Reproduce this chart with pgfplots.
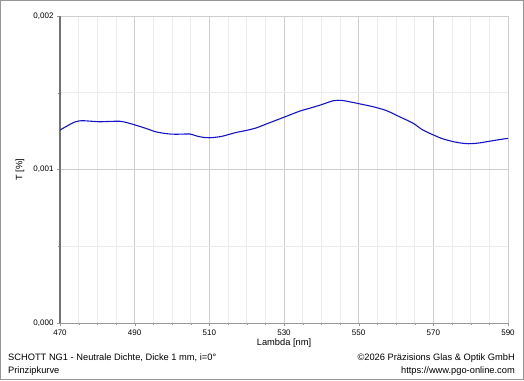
\documentclass[border=0pt]{standalone}
\usepackage{pgfplots}
\pgfplotsset{compat=1.18}
\usepackage{fontspec}
\setmainfont{Liberation Sans}
\definecolor{curve}{RGB}{20,20,205}
\definecolor{majgrid}{RGB}{205,205,205}
\definecolor{mingrid}{RGB}{236,236,236}
\definecolor{frame}{RGB}{150,150,150}
\begin{document}
\begin{tikzpicture}[x=1pt,y=1pt]
\fill[white] (0,0) rectangle (524,380);
\draw[frame, line width=1.2pt] (0.6,0.6) rectangle (523.4,379.4);
\begin{axis}[
  at={(60pt,57pt)}, anchor=south west,
  scale only axis, width=448pt, height=307pt,
  xmin=470, xmax=590, ymin=0, ymax=0.002,
  xtick={470,490,...,590}, minor x tick num=3,
  ytick={0,0.001,0.002}, minor y tick num=1,
  grid=both,
  major grid style={majgrid, line width=0.8pt},
  minor grid style={mingrid, line width=0.6pt},
  axis lines*=left,
  axis line style={-},
  x axis line style={draw=gray!80, line width=0.8pt},
  y axis line style={draw=gray!90!black, line width=1.4pt},
  tick align=outside,
  major tick length=3pt, minor tick length=2pt,
  tick style={gray!80},
  scaled y ticks=false,
  yticklabel style={/pgf/number format/.cd, fixed, fixed zerofill, precision=3, use comma},
  /pgf/number format/assume math mode=true,
  ticklabel style={font=\fontsize{8}{9}\selectfont},
  xlabel={Lambda [nm]}, ylabel={T [\%]},
  label style={font=\fontsize{9.3}{11}\selectfont},
  xlabel style={at={(axis description cs:0.5,0)}, anchor=center, yshift=-20pt},
  ylabel style={at={(axis description cs:0,0.5)}, anchor=center, rotate=0, yshift=40pt},
  clip=true,
]
\addplot[curve, line width=1.1pt, smooth] coordinates {
(470,0.001257) (472,0.001285) (474,0.001310) (475.8,0.001318) (478,0.001315)
(480.7,0.001311) (483,0.001313) (486.1,0.001314) (488,0.001305) (490.1,0.001290)
(493,0.001268) (495.9,0.001244) (499.5,0.001231) (502,0.001230) (504.8,0.001231)
(506.6,0.001218) (508.5,0.001209) (510.2,0.001207) (512,0.001211) (513.7,0.001218)
(517.3,0.001242) (520,0.001255) (522.7,0.001272) (525,0.001294) (528,0.001322)
(531,0.001350) (534.3,0.001381) (537,0.001400) (540,0.001422) (543.2,0.001448)
(545.5,0.001450) (548,0.001439) (550.4,0.001427) (554,0.001408) (557.5,0.001383)
(561,0.001343) (564.6,0.001301) (567,0.001260) (570,0.001225) (572.5,0.001200)
(575.4,0.001181) (577.5,0.001172) (579.4,0.001168) (582,0.001172) (584.3,0.001181)
(587,0.001192) (590,0.001203)
};
\end{axis}
\begin{scope}[every node/.style={inner sep=0pt, font=\fontsize{9.3}{11}\selectfont}]
\node[anchor=base west] at (8,20) {SCHOTT NG1 - Neutrale Dichte, Dicke 1 mm, i=0°};
\node[anchor=base west] at (8,7) {Prinzipkurve};
\node[anchor=base east] at (515,20) {©2026 Präzisions Glas \& Optik GmbH};
\node[anchor=base east] at (515,7) {https://www.pgo-online.com};
\end{scope}
\end{tikzpicture}
\end{document}
